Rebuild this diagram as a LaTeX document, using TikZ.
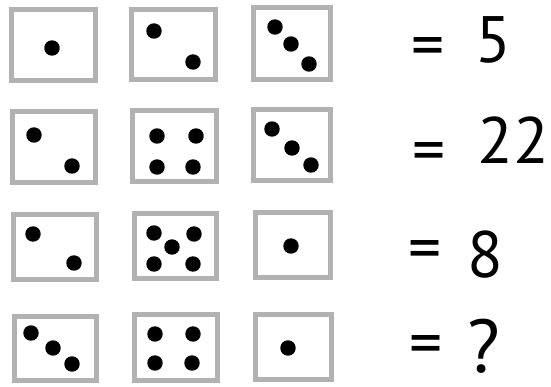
\documentclass[tikz,border=0pt]{standalone}
\usepackage{fontspec}
\newfontfamily\handfont{PT Sans}
\usepackage{tikz}
\tikzstyle{tile} = [draw=gray!60,line width=4.2pt]
\tikzstyle{pip} = [fill=black]
\tikzstyle{sum} = [font=\handfont\fontsize{56}{60}\selectfont,inner sep=0pt,anchor=base]
\tikzstyle{equ} = [font=\handfont\fontsize{56}{60}\selectfont,inner sep=0pt]

\begin{document}
\begin{tikzpicture}[x=0.03cm,y=-0.03cm]
      \useasboundingbox(0,0)rectangle(551,387);
      \def\rad{6.6pt}
      % frames
      \foreach \a/\b/\c/\d in {11.5/9.5/95.5/80.5,131.5/9.5/215.5/79.5,253.5/7.5/330.5/79.5,
                               12.5/111.5/95.5/182.5,132.5/110.5/216.5/181.5,253.5/109.5/330.5/180.5,
                               13.5/214.5/96.5/279.5,134.5/213.5/216.5/278.5,255.5/212.5/330.5/277.5,
                               14.5/316.5/96.5/380.5,134.5/314.5/217.5/380.5,255.5/314.5/331.5/379.5}
        \draw[tile](\a,\b)rectangle(\c,\d);
      % pips
      \foreach \p in {(52,48),
                      (154,31),(193,62),
                      (275,27),(291,44),(309,64),
                      (34,135),(72,166),
                      (157,136),(196,136),(157,167),(193,167),
                      (272,129),(292,148),(311,165),
                      (33,234),(74,263),
                      (154,233),(194,234),(172,247),(154,264),(193,264),
                      (291,246),
                      (31,333),(53,348),(72,364),
                      (155,334),(193,334),(155,363),(192,363),
                      (288,348)}
        \fill[pip]\p circle(\rad);
      % results
      \node[equ](eqA)at(428,53){=};
      \node[sum](valA)at(493,62){5};
      \node[equ](eqB)at(429,158){=};
      \node[sum](valB)at(513,163){22};
      \node[equ](eqC)at(425,256){=};
      \node[sum](valC)at(485,277){8};
      \node[equ](eqD)at(426,351){=};
      \node[sum,font=\handfont\fontsize{64}{68}\selectfont](valD)at(484,372){?};
    \end{tikzpicture}
\end{document}
